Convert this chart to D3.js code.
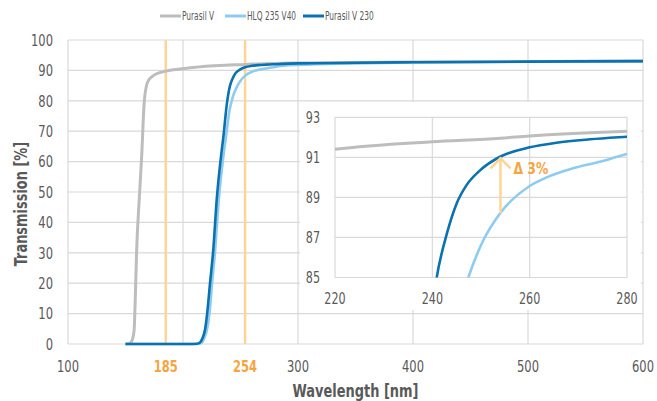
<!DOCTYPE html>
<html>
<head>
<meta charset="utf-8">
<script src="https://cdn.jsdelivr.net/npm/d3@7"></script>
<style>
body { margin: 0; background: #fff; }
svg text { font-family: "DejaVu Sans Condensed", "DejaVu Sans", sans-serif; font-stretch: condensed; }
</style>
</head>
<body>
<div id="chart"></div>
<script>
var W = 657, H = 401;

// series data: wavelength [nm] and transmission [%]
var nmPurasilV = [150, 154, 156, 157.5, 158.5, 159.7, 162, 164.1, 166.1, 168.4, 170.5, 172.8, 177, 183, 190, 203, 220, 240, 254, 260, 280, 300, 350, 400, 500, 600];
var tPurasilV  = [0, 0.3, 1.5, 4.6, 15, 30.9, 48, 62, 78.6, 85.2, 87, 87.9, 88.9, 89.6, 90.1, 90.7, 91.4, 91.78, 91.95, 92.07, 92.3, 92.45, 92.6, 92.75, 92.9, 93.05];

var nmHLQ = [150, 207, 214, 216.5, 218.5, 220.8, 223, 225.3, 228, 231, 235.5, 237, 240.5, 243.5, 247.4, 250.5, 253.9, 260, 263.5, 268.9, 274.4, 280, 300, 350, 400, 500, 600];
var tHLQ  = [0, 0, 0.1, 0.5, 2, 4.6, 10, 20, 31, 47, 63, 67, 77, 81.5, 85, 86.87, 88.2, 89.57, 90.0, 90.45, 90.78, 91.17, 91.8, 92.3, 92.6, 92.9, 93.05];

var nmPurasil230 = [150, 205, 212, 214.8, 217, 219.1, 221, 223.5, 226.3, 229.3, 233.7, 235, 238, 240, 240.9, 243, 245, 247, 249.8, 253.9, 260, 265.5, 272.4, 280, 300, 350, 400, 500, 600];
var tPurasil230  = [0, 0, 0.1, 0.5, 2, 4.6, 10, 20, 30.9, 47.4, 63.8, 67.7, 78.6, 83.5, 85, 87.2, 88.7, 89.6, 90.35, 91.03, 91.5, 91.73, 91.9, 92.03, 92.3, 92.5, 92.7, 92.9, 93.05];

var seriesNames = ["Purasil V", "HLQ 235 V40", "Purasil V 230"];
var seriesColors = ["#bdbdbd", "#8ecbf0", "#0a72b0"];

var xTicks = [100, 300, 400, 500, 600];
var xGrid = [100, 200, 300, 400, 500, 600];
var yTicks = [0, 10, 20, 30, 40, 50, 60, 70, 80, 90, 100];
var markNm = [185, 254];

var insetXTicks = [220, 240, 260, 280];
var insetYTicks = [85, 87, 89, 91, 93];
var deltaNm = 254, deltaFrom = 88.2, deltaTo = 91.0, deltaLabel = "\u0394 3%";

var series = [
  nmPurasilV.map((d, i) => [d, tPurasilV[i]]),
  nmHLQ.map((d, i) => [d, tHLQ[i]]),
  nmPurasil230.map((d, i) => [d, tPurasil230[i]])
];

var svg = d3.select("#chart").append("svg")
  .attr("width", W).attr("height", H);

var x = d3.scaleLinear().domain([100, 600]).range([68, 643]);
var y = d3.scaleLinear().domain([0, 100]).range([344, 40]);

var grid = "#d9d9d9", txt = "#595959", orange = "#f5a540", orangeLine = "#fdd595";

// narrow text: the original uses a condensed face, squeeze horizontally
var SX = 0.8;
function place(px, py, sx) { return "translate(" + px + "," + py + ") scale(" + (sx || SX) + ",1)"; }

// grid
svg.append("g").selectAll("line").data(yTicks).enter().append("line")
  .attr("x1", x(100)).attr("x2", x(600))
  .attr("y1", d => y(d)).attr("y2", d => y(d))
  .attr("stroke", grid).attr("stroke-width", 1.2);
svg.append("g").selectAll("line").data(xGrid).enter().append("line")
  .attr("x1", d => x(d)).attr("x2", d => x(d))
  .attr("y1", y(0)).attr("y2", y(100))
  .attr("stroke", grid).attr("stroke-width", 1.2);

// marker lines
svg.append("g").selectAll("line").data(markNm).enter().append("line")
  .attr("x1", d => x(d)).attr("x2", d => x(d))
  .attr("y1", y(0)).attr("y2", y(100))
  .attr("stroke", orangeLine).attr("stroke-width", 2.5);

// tick labels
svg.append("g").selectAll("text").data(yTicks).enter().append("text")
  .attr("transform", d => place(53, y(d))).attr("dy", "0.36em")
  .attr("text-anchor", "end").attr("font-size", 16).attr("fill", txt)
  .text(d => d);
svg.append("g").selectAll("text").data(xTicks).enter().append("text")
  .attr("transform", d => place(x(d), 372))
  .attr("text-anchor", "middle").attr("font-size", 16).attr("fill", txt)
  .text(d => d);
svg.append("g").selectAll("text").data(markNm).enter().append("text")
  .attr("transform", d => place(x(d), 372))
  .attr("text-anchor", "middle").attr("font-size", 16).attr("font-weight", "bold").attr("fill", orange)
  .text(d => d);

// axis titles
svg.append("text")
  .attr("transform", place((x(100) + x(600)) / 2, 397))
  .attr("text-anchor", "middle").attr("font-size", 18).attr("font-weight", "bold").attr("fill", txt)
  .text("Wavelength [nm]");
svg.append("text")
  .attr("transform", "translate(27,204) rotate(-90) scale(" + SX + ",1)")
  .attr("text-anchor", "middle").attr("font-size", 18).attr("font-weight", "bold").attr("fill", txt)
  .text("Transmission [%]");

// curves
var line = d3.line().x(d => x(d[0])).y(d => y(d[1])).curve(d3.curveMonotoneX);
svg.append("g").selectAll("path").data(series).enter().append("path")
  .attr("d", line).attr("fill", "none")
  .attr("stroke", (d, i) => seriesColors[i])
  .attr("stroke-width", (d, i) => i == 0 ? 3 : 2.6)
  .attr("stroke-linejoin", "round");

// legend
var legendX = [160, 225, 303];
var legend = svg.append("g");
legend.selectAll("line").data(seriesNames).enter().append("line")
  .attr("x1", (d, i) => legendX[i]).attr("x2", (d, i) => legendX[i] + 21)
  .attr("y1", 16).attr("y2", 16)
  .attr("stroke", (d, i) => seriesColors[i]).attr("stroke-width", 3);
legend.selectAll("text").data(seriesNames).enter().append("text")
  .attr("transform", (d, i) => place(legendX[i] + 22, 16, 0.72)).attr("dy", "0.35em")
  .attr("font-size", 11.5).attr("fill", txt)
  .text(d => d);

// inset
svg.append("rect")
  .attr("x", 300).attr("y", 102).attr("width", 341).attr("height", 208)
  .attr("fill", "#fff");

var ix = d3.scaleLinear().domain([220, 280]).range([335, 627]);
var iy = d3.scaleLinear().domain([85, 93]).range([277.5, 117.3]);

var inset = svg.append("g");
inset.append("defs").append("clipPath").attr("id", "insetClip")
  .append("rect").attr("x", ix(220)).attr("y", iy(93))
  .attr("width", ix(280) - ix(220)).attr("height", iy(85) - iy(93));

inset.append("g").selectAll("line").data(insetYTicks).enter().append("line")
  .attr("x1", ix(220)).attr("x2", ix(280))
  .attr("y1", d => iy(d)).attr("y2", d => iy(d))
  .attr("stroke", grid).attr("stroke-width", 1.2);
inset.append("g").selectAll("line").data(insetXTicks).enter().append("line")
  .attr("x1", d => ix(d)).attr("x2", d => ix(d))
  .attr("y1", iy(85)).attr("y2", iy(93))
  .attr("stroke", grid).attr("stroke-width", 1.2);

inset.append("g").selectAll("text").data(insetYTicks).enter().append("text")
  .attr("transform", d => place(320, iy(d))).attr("dy", "0.36em")
  .attr("text-anchor", "end").attr("font-size", 15.5).attr("fill", txt)
  .text(d => d);
inset.append("g").selectAll("text").data(insetXTicks).enter().append("text")
  .attr("transform", d => place(ix(d), 304))
  .attr("text-anchor", "middle").attr("font-size", 15.5).attr("fill", txt)
  .text(d => d);

var iline = d3.line().x(d => ix(d[0])).y(d => iy(d[1])).curve(d3.curveMonotoneX);
inset.append("g").attr("clip-path", "url(#insetClip)")
  .selectAll("path").data(series).enter().append("path")
  .attr("d", d => iline(d.filter(p => p[0] >= 200 && p[0] <= 300)))
  .attr("fill", "none")
  .attr("stroke", (d, i) => seriesColors[i])
  .attr("stroke-width", (d, i) => i == 0 ? 3 : 2.6);

// delta arrow
var ax = ix(deltaNm), ay0 = iy(deltaFrom), ay1 = iy(deltaTo);
inset.append("line")
  .attr("x1", ax).attr("x2", ax).attr("y1", ay0).attr("y2", ay1 + 1)
  .attr("stroke", orangeLine).attr("stroke-width", 2.5);
inset.append("path")
  .attr("d", d3.line()([[ax - 10, ay1 + 11], [ax, ay1 + 1], [ax + 10, ay1 + 11]]))
  .attr("fill", "none").attr("stroke", orangeLine).attr("stroke-width", 2.5);
inset.append("text")
  .attr("transform", place(ax + 13, ay1 + 17, 0.86))
  .attr("font-size", 16).attr("font-weight", "bold").attr("fill", orange)
  .text(deltaLabel);
</script>
</body>
</html>
